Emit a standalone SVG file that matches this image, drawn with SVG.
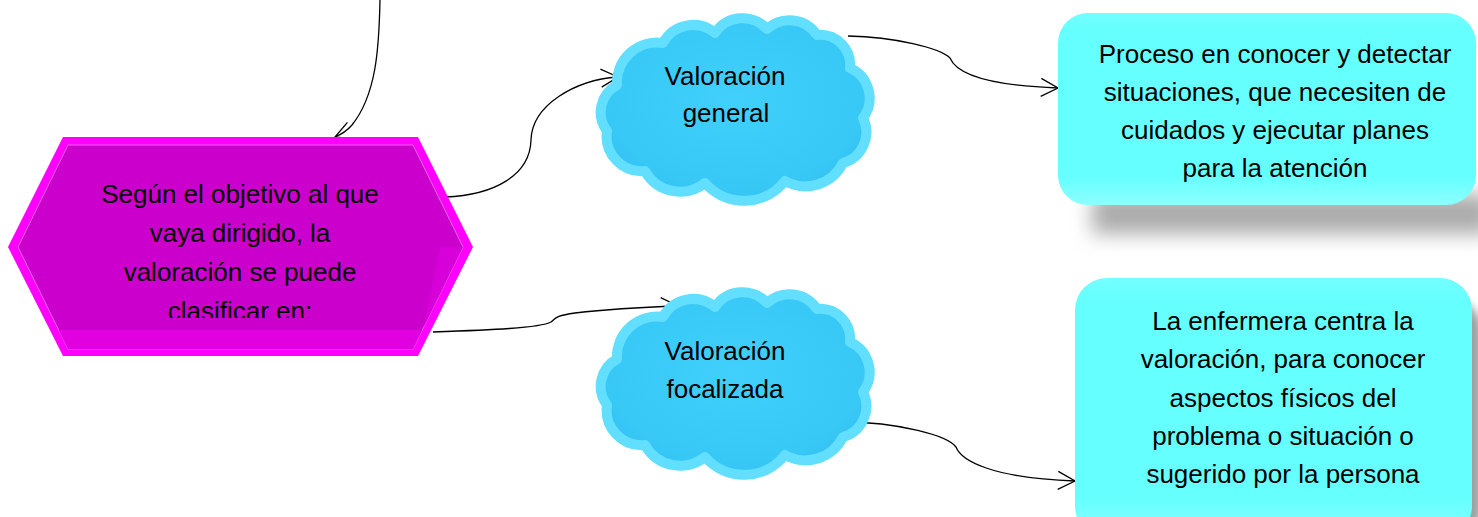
<svg xmlns="http://www.w3.org/2000/svg" width="1478" height="517" viewBox="0 0 1478 517">
<style>
  .t { font-family: "Liberation Sans", Arial, sans-serif; font-size: 26px; fill: #000; text-anchor: middle; }
  .conn { fill: none; stroke: #000; stroke-width: 1.3; }
</style>
<defs>
  <marker id="arr" markerUnits="userSpaceOnUse" markerWidth="24" markerHeight="24" viewBox="-20 -12 24 24" refX="0" refY="0" orient="auto" overflow="visible">
    <path d="M-17,-9 L0,0 L-17,9" fill="none" stroke="#000" stroke-width="1.3"/>
  </marker>
  <filter id="blur9" x="-20%" y="-60%" width="140%" height="220%"><feGaussianBlur stdDeviation="10"/></filter>
  <filter id="blur4" x="-20%" y="-20%" width="140%" height="140%"><feGaussianBlur stdDeviation="4"/></filter>
  <radialGradient id="cloudFill" cx="50%" cy="45%" r="60%">
    <stop offset="0" stop-color="#40D0FB"/>
    <stop offset="0.8" stop-color="#38C8F6"/>
    <stop offset="1" stop-color="#30BEEF"/>
  </radialGradient>
  <linearGradient id="boxFill" x1="0" y1="0" x2="0" y2="1">
    <stop offset="0" stop-color="#74FFFF"/>
    <stop offset="0.08" stop-color="#66FFFF"/>
    <stop offset="0.85" stop-color="#66FFFF"/>
    <stop offset="1" stop-color="#8CFFFF"/>
  </linearGradient>
  <path id="cloud" d="M22,72 A40,40 0 0 1 68,30 A34,34 0 0 1 120,20 A33,33 0 0 1 172,16 A33,33 0 0 1 222,22 A30,30 0 0 1 255,55 A33,33 0 0 1 268,105 A32,32 0 0 1 248,150 A42,42 0 0 1 190,168 A52,52 0 0 1 110,170 A40,40 0 0 1 50,158 A35,35 0 0 1 12,118 A31,31 0 0 1 22,72 Z"/>
  <clipPath id="hexClip"><rect x="0" y="130" width="480" height="188"/></clipPath>
  <clipPath id="innerHex"><polygon points="18,247 68,145 413,145 463,247 413,349 68,349"/></clipPath>
</defs>

<g id="connectors">
  <path class="conn" d="M380,0 C379,50 376,95 352,125 Q345,133 335,137" marker-end="url(#arr)"/>
  <path class="conn" d="M445,197 C495,195 530,175 531,140 C532,105 575,80 618,77" marker-end="url(#arr)"/>
  <path class="conn" d="M433,332 C490,330 540,328 551,322 C556,318 555,316 575,313 C610,309 650,307 678,306" marker-end="url(#arr)"/>
  <path class="conn" d="M848,36 C895,37 940,48 950,58 C955,70 975,85 1058,88" marker-end="url(#arr)"/>
  <path class="conn" d="M842,422 C900,422 948,436 956,447 C961,460 990,478 1075,481" marker-end="url(#arr)"/>
</g>

<g id="hexagon">
  <polygon points="8,247 63,137 418,137 473,247 418,356 63,356" fill="#FF00FF"/>
  <polygon points="18,247 68,145 413,145 463,247 413,349 68,349" fill="#CC00CC" stroke="#E466E4" stroke-width="1"/>
  <g clip-path="url(#innerHex)">
    <rect x="0" y="330" width="480" height="20" fill="#E000E0"/>
    <polygon points="463,247 440,247 423,330 480,330" fill="#D800D8"/>
  </g>
  <g clip-path="url(#hexClip)">
    <text class="t" x="240" y="203">Según el objetivo al que</text>
    <text class="t" x="240" y="242">vaya dirigido, la</text>
    <text class="t" x="240" y="281">valoración se puede</text>
    <text class="t" x="240" y="320">clasificar en:</text>
  </g>
</g>

<g id="cloud-general">
  <use href="#cloud" transform="translate(595,13)" fill="url(#cloudFill)" stroke="#62DEFF" stroke-width="10" stroke-linejoin="round"/>
  <text class="t" x="725" y="85">Valoración</text>
  <text class="t" x="726" y="122">general</text>
</g>

<g id="cloud-focalizada">
  <use href="#cloud" transform="translate(595,287)" fill="url(#cloudFill)" stroke="#62DEFF" stroke-width="10" stroke-linejoin="round"/>
  <text class="t" x="725" y="360">Valoración</text>
  <text class="t" x="725" y="398">focalizada</text>
</g>

<g id="box-general">
  <rect x="1092" y="194" width="400" height="40" fill="#ABABAB" filter="url(#blur9)"/>
  <rect x="1058" y="13" width="418" height="192" rx="30" fill="url(#boxFill)"/>
  <text class="t" x="1275" y="63">Proceso en conocer y detectar</text>
  <text class="t" x="1275" y="101">situaciones, que necesiten de</text>
  <text class="t" x="1275" y="139">cuidados y ejecutar planes</text>
  <text class="t" x="1275" y="177">para la atención</text>
</g>

<g id="box-focalizada">
  <rect x="1090" y="300" width="392" height="240" rx="30" fill="#A0A0A0" filter="url(#blur4)"/>
  <rect x="1075" y="278" width="397" height="260" rx="32" fill="url(#boxFill)"/>
  <text class="t" x="1283" y="330">La enfermera centra la</text>
  <text class="t" x="1283" y="368">valoración, para conocer</text>
  <text class="t" x="1283" y="407">aspectos físicos del</text>
  <text class="t" x="1283" y="445">problema o situación o</text>
  <text class="t" x="1283" y="483">sugerido por la persona</text>
</g>
</svg>
